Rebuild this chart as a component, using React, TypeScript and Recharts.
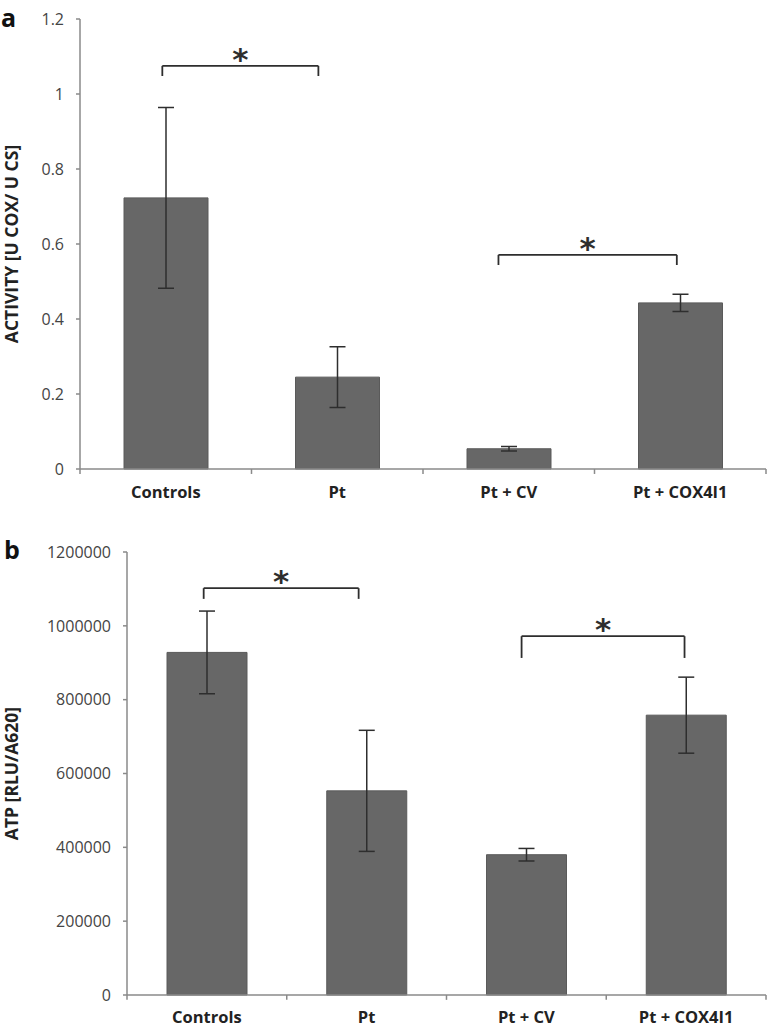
import React from "react";
import {
  BarChart,
  Bar,
  XAxis,
  YAxis,
  ErrorBar,
  ReferenceLine,
  Label,
} from "recharts";

const categories = ["Controls", "Pt", "Pt + CV", "Pt + COX4I1"];

const activity = [0.723, 0.245, 0.054, 0.443];
const activityErr = [0.241, 0.081, 0.006, 0.023];
const activityTicks = [0, 0.2, 0.4, 0.6, 0.8, 1, 1.2];

const atp = [928000, 553000, 380000, 758000];
const atpErr = [112000, 164000, 17000, 103000];
const atpTicks = [0, 200000, 400000, 600000, 800000, 1000000, 1200000];

// significance brackets, in category units (0..4) and value units
const activityBrackets = [
  { from: 0.48, to: 1.39, level: 1.075, end: 1.048 },
  { from: 2.44, to: 3.48, level: 0.571, end: 0.544 },
];
const atpBrackets = [
  { from: 0.48, to: 1.45, level: 1102000, end: 1073000 },
  { from: 2.47, to: 3.49, level: 972000, end: 913000 },
];

// category slots: centres carry the bars, edges carry the small ticks
const slotCentres = [0.5, 1.5, 2.5, 3.5];
const slotEdges = [0, 1, 2, 3, 4];

const activityData = categories.map((name, i) => ({
  pos: slotCentres[i],
  value: activity[i],
  err: activityErr[i],
}));
const atpData = categories.map((name, i) => ({
  pos: slotCentres[i],
  value: atp[i],
  err: atpErr[i],
}));

const FONT = "'Open Sans', 'Noto Sans', sans-serif";
const AXIS = "#8a8a8a";
const BAR = "#676767";
const INK = "#2e2e2e";

const Star = (props: any) => {
  const { viewBox } = props;
  return (
    <text
      x={viewBox.x + viewBox.width / 2}
      y={viewBox.y + 4}
      textAnchor="middle"
      fontSize={31}
      fontWeight={700}
      fontFamily="'DejaVu Sans', sans-serif"
      fill={INK}
    >
      *
    </text>
  );
};

const axisTitle = (text: string) => (props: any) => {
  const { viewBox } = props;
  const cy = viewBox.y + viewBox.height / 2;
  return (
    <text
      x={11}
      y={cy}
      transform={`rotate(-90, 11, ${cy})`}
      textAnchor="middle"
      dominantBaseline="central"
      fontSize={17.5}
      fontWeight={700}
      fontFamily={FONT}
      fill="#222"
    >
      {text}
    </text>
  );
};

function brackets(list: typeof activityBrackets) {
  return list.flatMap((b, i) => [
    <ReferenceLine
      key={`l${i}`}
      segment={[
        { x: b.from, y: b.end },
        { x: b.from, y: b.level },
      ]}
      stroke={INK}
      strokeWidth={1.8}
      ifOverflow="visible"
    />,
    <ReferenceLine
      key={`r${i}`}
      segment={[
        { x: b.to, y: b.end },
        { x: b.to, y: b.level },
      ]}
      stroke={INK}
      strokeWidth={1.8}
      ifOverflow="visible"
    />,
    <ReferenceLine
      key={`h${i}`}
      segment={[
        { x: b.from, y: b.level },
        { x: b.to, y: b.level },
      ]}
      stroke={INK}
      strokeWidth={1.8}
      ifOverflow="visible"
      label={<Star />}
    />,
  ]);
}

function Panel({
  data,
  ticks,
  max,
  title,
  list,
  yWidth,
  height,
  top,
  bottom,
  axisHeight,
  labelMargin,
  barSize,
}: any) {
  return (
    <BarChart
      width={768}
      height={height}
      data={data}
      margin={{ top, right: 2, bottom, left: 0 }}
    >
      <XAxis
        dataKey="pos"
        type="number"
        domain={[0, 4]}
        allowDataOverflow
        ticks={slotCentres}
        interval={0}
        tickFormatter={(v: number) => categories[Math.floor(v)]}
        height={axisHeight}
        axisLine={{ stroke: AXIS, strokeWidth: 1.5 }}
        tickLine={false}
        tickSize={0}
        tickMargin={labelMargin}
        tick={{ fontSize: 16.5, fontWeight: 700, fill: "#222", fontFamily: FONT }}
      />
      <YAxis
        width={yWidth}
        domain={[0, max]}
        ticks={ticks}
        interval={0}
        axisLine={{ stroke: AXIS, strokeWidth: 1.5 }}
        tickLine={{ stroke: AXIS, strokeWidth: 1.5 }}
        tickSize={4}
        tickMargin={12}
        tick={{ fontSize: 16, fill: "#444", fontFamily: FONT }}
      >
        <Label content={axisTitle(title)} />
      </YAxis>
      <Bar
        dataKey="value"
        fill={BAR}
        stroke="#5a5a5a"
        strokeWidth={1}
        barSize={barSize}
        isAnimationActive={false}
      >
        <ErrorBar
          dataKey="err"
          width={8}
          stroke={INK}
          strokeWidth={1.5}
          direction="y"
        />
      </Bar>
      {slotEdges.map((e) => (
        <ReferenceLine
          key={`t${e}`}
          segment={[
            { x: e, y: 0 },
            { x: e, y: -max * 0.011 },
          ]}
          stroke={AXIS}
          strokeWidth={1.5}
          ifOverflow="visible"
        />
      ))}
      {brackets(list)}
    </BarChart>
  );
}

const letterStyle: React.CSSProperties = {
  position: "absolute",
  fontSize: 25,
  lineHeight: "normal",
  fontWeight: 700,
  color: "#111",
};

export default function App() {
  return (
    <div
      style={{
        position: "absolute",
        left: 0,
        top: 0,
        width: 768,
        height: 1027,
        background: "#fff",
        fontFamily: FONT,
      }}
    >
      <div style={{ position: "absolute", left: 0, top: 0 }}>
        <Panel
          data={activityData}
          ticks={activityTicks}
          max={1.2}
          title="ACTIVITY  [U COX/ U CS]"
          list={activityBrackets}
          yWidth={80}
          height={520}
          top={19}
          bottom={20}
          axisHeight={31}
          labelMargin={17}
          barSize={84}
        />
      </div>
      <div style={{ position: "absolute", left: 0, top: 500 }}>
        <Panel
          data={atpData}
          ticks={atpTicks}
          max={1200000}
          title="ATP [RLU/A620]"
          list={atpBrackets}
          yWidth={127}
          height={527}
          top={52}
          bottom={0}
          axisHeight={32}
          labelMargin={16}
          barSize={80}
        />
      </div>
      <div style={{ ...letterStyle, left: 1, top: 0 }}>a</div>
      <div style={{ ...letterStyle, left: 4, top: 532 }}>b</div>
    </div>
  );
}
